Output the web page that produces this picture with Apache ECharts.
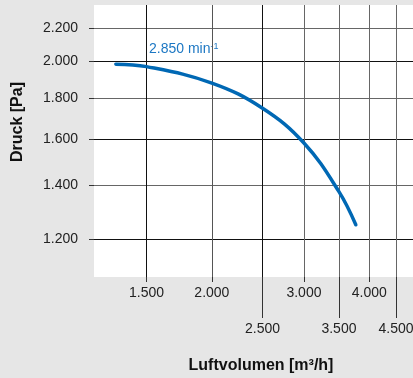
<!DOCTYPE html>
<html>
<head>
<meta charset="utf-8">
<script src="https://cdn.jsdelivr.net/npm/echarts@6/dist/echarts.min.js"></script>
<style>
  html, body { margin: 0; padding: 0; background: #e6e6e6; }
  #main { width: 413px; height: 378px; }
</style>
</head>
<body>
<div id="main"></div>
<script>
// Kennlinie
var airflow = [1310, 1500, 2000, 2500, 3000, 3500, 3770]; // m³/h
var pressure = [1983, 1969, 1878, 1747, 1581, 1375, 1250]; // Pa

// Achsen (beide logarithmisch)
var xTicksUpper = [1500, 2000, 3000, 4000];
var xTicksLower = [2500, 3500, 4500];
var xGrid = [1500, 2000, 2500, 3000, 3500, 4000, 4500];
var yTicks = [1200, 1400, 1600, 1800, 2000, 2200];
var xRange = [1190, 4850];
var yRange = [1076, 2350];

var speedLabel = '2.850 min';
var xName = 'Luftvolumen [m³/h]';
var yName = 'Druck [Pa]';

var FONT = '"Liberation Sans", Arial, sans-serif';
var lg = function (v) { return Math.log10(v); };
// deutsche Tausenderpunkte
function fmt(v) {
    return String(Math.round(Math.pow(10, v))).replace(/\B(?=(\d{3})+(?!\d))/g, '.');
}

var myChart = echarts.init(document.getElementById('main'));

var labelStyle = { color: '#222', fontSize: 14, fontFamily: FONT, formatter: fmt };

var option = {
    backgroundColor: '#e6e6e6',
    animation: false,
    grid: {
        left: 94, right: 0, top: 5, bottom: 101,
        outerBoundsMode: 'none',
        show: true, backgroundColor: '#fff', borderWidth: 0
    },
    xAxis: [
        {
            type: 'value',
            position: 'bottom',
            min: lg(xRange[0]), max: lg(xRange[1]),
            axisLine: { show: false },
            axisTick: {
                show: true, length: 5, customValues: xTicksUpper.map(lg),
                lineStyle: { color: '#333', width: 1 }
            },
            axisLabel: Object.assign({ margin: 9, customValues: xTicksUpper.map(lg) }, labelStyle),
            splitLine: { show: false }
        },
        {
            type: 'value',
            position: 'bottom',
            min: lg(xRange[0]), max: lg(xRange[1]),
            axisLine: { show: false },
            axisTick: {
                show: true, length: 41, customValues: xTicksLower.map(lg),
                lineStyle: { color: '#333', width: 1 }
            },
            axisLabel: Object.assign({ margin: 45, customValues: xTicksLower.map(lg) }, labelStyle),
            splitLine: { show: false }
        },
        {
            // nur Gitterlinien
            type: 'value',
            position: 'top',
            min: lg(xRange[0]), max: lg(xRange[1]),
            axisLine: { show: false },
            axisTick: { show: false, customValues: xGrid.map(lg) },
            axisLabel: { show: false, customValues: xGrid.map(lg) },
            splitLine: {
                show: true,
                lineStyle: { color: ['#111', '#555', '#111', '#666', '#666', '#666', '#666'], width: 1 }
            }
        }
    ],
    yAxis: {
        type: 'value',
        min: lg(yRange[0]), max: lg(yRange[1]),
        axisLine: { show: false },
        axisTick: {
            show: true, length: 5, customValues: yTicks.map(lg),
            lineStyle: { color: '#333', width: 1 }
        },
        axisLabel: Object.assign({ margin: 16, customValues: yTicks.map(lg) }, labelStyle),
        splitLine: {
            show: true,
            lineStyle: { color: ['#111', '#666'], width: 1 }
        }
    },
    series: [
        {
            name: 'Kennlinie',
            type: 'line',
            xAxisIndex: 0,
            yAxisIndex: 0,
            smooth: 0.4,
            symbol: 'none',
            lineStyle: { color: '#0068b4', width: 3.5, cap: 'round' },
            data: airflow.map(function (v, i) { return [lg(v), lg(pressure[i])]; })
        }
    ],
    graphic: [
        {
            type: 'text', x: 18, y: 122, rotation: Math.PI / 2,
            style: {
                text: yName, align: 'center', verticalAlign: 'middle',
                font: 'bold 16px ' + FONT, fill: '#111'
            }
        },
        {
            type: 'text', x: 261, y: 366,
            style: {
                text: xName, align: 'center', verticalAlign: 'middle',
                font: 'bold 16px ' + FONT, fill: '#111'
            }
        },
        {
            type: 'text', x: 149, y: 49,
            style: {
                text: '{a|' + speedLabel + '}{b|-1}',
                verticalAlign: 'middle',
                fill: '#1c77c3',
                rich: {
                    a: { fontSize: 14, fontFamily: FONT, fill: '#1c77c3' },
                    b: { fontSize: 9, fontFamily: FONT, fill: '#1c77c3', verticalAlign: 'top' }
                }
            }
        }
    ]
};

myChart.setOption(option);
window.addEventListener('resize', () => {
    myChart.resize()
})
</script>
</body>
</html>
